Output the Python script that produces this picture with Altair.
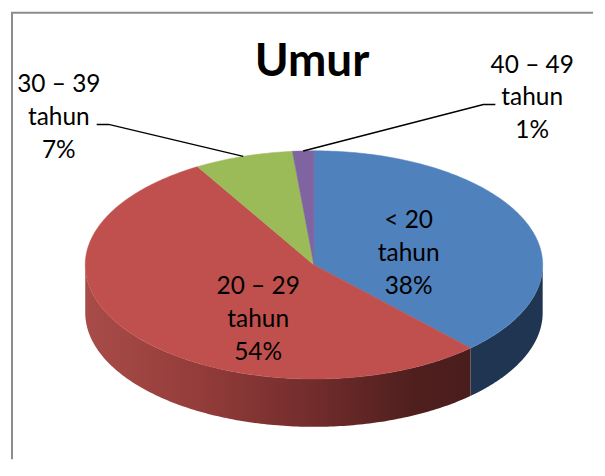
import math
import altair as alt
import pandas as pd

# ---- values
categories = ["< 20", "20 – 29", "30 – 39", "40 – 49"]
shares = [38.0, 53.5, 7.0, 1.5]
shown_pct = ["38%", "54%", "7%", "1%"]
unit = "tahun"
title_text = "Umur"
top_colors = ["#4f81bd", "#c0504d", "#9bbb59", "#8064a2"]

# ---- layout of the projected pie (in picture pixels)
CX, CY, RX, RY, DEPTH = 313.0, 264.0, 229.5, 114.5, 48.0
W, H = 585, 450
xs = alt.Scale(domain=[9, 594], nice=False, zero=False)
ys = alt.Scale(domain=[460, 10], nice=False, zero=False)
X = alt.X("x:Q", scale=xs, axis=None)
Y = alt.Y("y:Q", scale=ys, axis=None)


def pt(frac):
    a = 2 * math.pi * frac
    return CX + RX * math.sin(a), CY - RY * math.cos(a)


# slice polygons, from the shares
total = sum(shares)
bounds = [0.0]
for s in shares:
    bounds.append(bounds[-1] + s / total)


def slice_chart(k):
    f0, f1 = bounds[k], bounds[k + 1]
    n = max(4, int((f1 - f0) * 400))
    pts = [(CX, CY)] + [pt(f0 + (f1 - f0) * j / n) for j in range(n + 1)] + [(CX, CY)]
    df = pd.DataFrame({"x": [p[0] for p in pts], "y": [p[1] for p in pts], "i": range(len(pts))})
    return alt.Chart(df).mark_line(fill=top_colors[k], stroke=top_colors[k], strokeWidth=0.5).encode(
        x=X, y=Y, order="i:Q"
    )


# side wall: visible lower half of the rim, split where the blue slice ends
def wall_chart(f0, f1, fill):
    n = 160
    rows = []
    for j in range(n + 1):
        px, py = pt(f0 + (f1 - f0) * j / n)
        rows.append({"x": px, "y": py, "y2": py + DEPTH})
    return alt.Chart(pd.DataFrame(rows)).mark_area(fill=fill).encode(
        x=X, y=Y, y2="y2:Q"
    )


blue_wall = wall_chart(0.25, bounds[1], "#1f3552")
red_wall = wall_chart(bounds[1], 0.75, alt.Gradient(
    gradient="linear", x1=0, x2=1, y1=0, y2=0,
    stops=[
        alt.GradientStop(offset=0.0, color="#a84c49"),
        alt.GradientStop(offset=0.3, color="#933c3a"),
        alt.GradientStop(offset=0.6, color="#702c2b"),
        alt.GradientStop(offset=0.85, color="#4f1f1e"),
        alt.GradientStop(offset=1.0, color="#4a1d1c"),
    ],
))

# leader lines, ending on the mid rim of the two small slices
green_end = pt((bounds[2] + bounds[3]) / 2)
purple_end = pt((bounds[3] + bounds[4]) / 2)
lead = pd.DataFrame({
    "x": [95, 107, green_end[0], 495, 483, purple_end[0]],
    "y": [123, 123, green_end[1], 103, 103, purple_end[1]],
    "g": ["a", "a", "a", "b", "b", "b"],
    "i": [0, 1, 2, 0, 1, 2],
})
leaders = alt.Chart(lead).mark_line(color="#000000", strokeWidth=1.5).encode(
    x=X, y=Y, detail="g:N", order="i:Q"
)

# frame
frame_df = pd.DataFrame({"x": [10, 10, 593], "y": [459, 11, 11], "i": [0, 1, 2]})
frame = alt.Chart(frame_df).mark_line(color="#8c8c8c", strokeWidth=2).encode(
    x=X, y=Y, order="i:Q"
)

# labels: three lines each
anchor_x = [408, 257, 57, 532]
first_baseline = [227, 293, 91, 71]
line_gap = 33
rows = []
for k, c in enumerate(categories):
    for j, t in enumerate([c, unit, shown_pct[k]]):
        rows.append({"x": anchor_x[k], "y": first_baseline[k] + j * line_gap, "t": t})
labels = alt.Chart(pd.DataFrame(rows)).mark_text(
    font="Lato", fontSize=24.5, color="#000000", align="center", baseline="alphabetic"
).encode(x=X, y=Y, text="t:N")

title = alt.Chart(pd.DataFrame({"x": [311], "y": [74], "t": [title_text]})).mark_text(
    font="Lato", fontSize=46, fontWeight="bold", color="#000000", align="center", baseline="alphabetic"
).encode(x=X, y=Y, text="t:N")

chart = alt.layer(
    frame, blue_wall, red_wall,
    *[slice_chart(k) for k in range(4)],
    leaders, labels, title,
).properties(width=W, height=H, background="#ffffff", padding=0).configure_view(stroke=None)

chart.save("out.html", embed_options={"renderer": "svg", "actions": False})
